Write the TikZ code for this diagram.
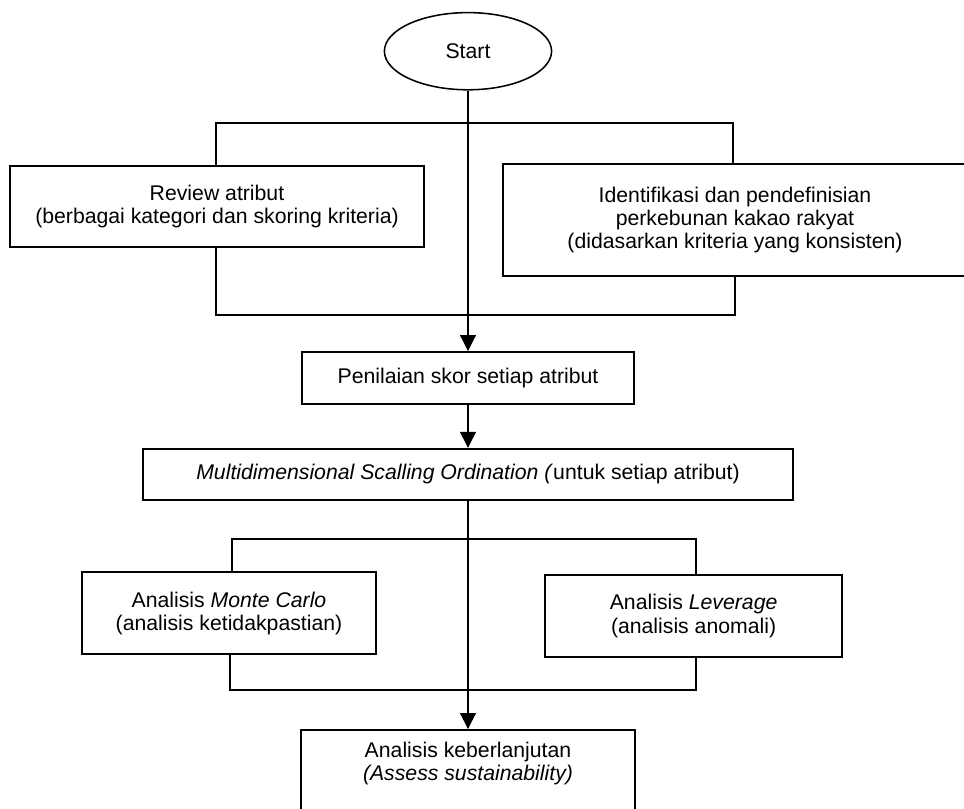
\documentclass[tikz,border=0pt]{standalone}
\usepackage{fontspec}
\setmainfont{Liberation Sans}
\usetikzlibrary{shapes.geometric, arrows.meta}

\tikzset{
  box/.style={draw, line width=1.4pt, align=center, inner sep=0pt},
  link/.style={line width=0.8pt},
  flow/.style={link, -{Triangle[length=4mm, width=4mm]}},
}

\begin{document}
\begin{tikzpicture}[font=\fontsize{15.1}{16.6}\selectfont]

  % page frame -- the two wide boxes run off the edge
  \useasboundingbox (-11.7, 0) rectangle (12.4, -20.2);
  \clip (-11.7, 0) rectangle (12.4, -20.2);

  % Start -- ellipse at the top
  \node[draw, ellipse, line width=1.1pt, minimum width=4.18cm, minimum height=1.93cm]
    (start) at (0, -1.28) {Start};

  % first pair of boxes
  \node[box, minimum width=10.35cm, minimum height=2.03cm] (review) at (-6.275, -5.16)
    {Review atribut\\(berbagai kategori dan skoring kriteria)};
  \node[box, minimum width=11.6cm, minimum height=2.8cm] (ident) at (6.675, -5.5)
    {Identifikasi dan pendefinisian\\perkebunan kakao rakyat\\(didasarkan kriteria yang konsisten)};

  % scoring and ordination
  \node[box, minimum width=8.3cm, minimum height=1.3cm] (score) at (0, -9.45)
    {Penilaian skor setiap atribut};
  \node[box, minimum width=16.23cm, minimum height=1.28cm] (mds) at (0, -11.86)
    {\textit{Multidimensional Scalling Ordination (}untuk setiap atribut)};

  % second pair of boxes
  \node[box, minimum width=7.35cm, minimum height=2.05cm] (mc) at (-5.975, -15.33)
    {Analisis \textit{Monte Carlo}\\(analisis ketidakpastian)};
  \node[box, minimum width=7.43cm, minimum height=2.05cm] (lev) at (5.64, -15.4)
    {Analisis \textit{Leverage}\\(analisis anomali)};

  % last box -- cut by the bottom edge
  \node[box, anchor=north, minimum width=8.35cm, inner ysep=0.3cm] (final) at (0, -18.225)
    {Analisis keberlanjutan\\\textit{(Assess sustainability)}\\\strut};

  % brackets round the first pair
  \coordinate (splitL) at (-6.3, -3.075);
  \coordinate (splitR) at (6.625, -3.075);
  \coordinate (joinL) at (-6.3, -7.875);
  \coordinate (joinR) at (6.675, -7.875);
  \draw[link] (review.north -| splitL) -- (splitL) -- (splitR) -- (ident.north -| splitR);
  \draw[link] (review.south -| joinL) -- (joinL) -- (joinR) -- (ident.south -| joinR);

  % brackets round the second pair
  \coordinate (forkL) at (-5.9, -13.475);
  \coordinate (forkR) at (5.7, -13.475);
  \coordinate (meetL) at (-5.95, -17.25);
  \coordinate (meetR) at (5.7, -17.25);
  \draw[link] (mc.north -| forkL) -- (forkL) -- (forkR) -- (lev.north -| forkR);
  \draw[link] (mc.south -| meetL) -- (meetL) -- (meetR) -- (lev.south -| meetR);

  % main line down the middle
  \draw[flow] (start) -- (score);
  \draw[flow] (score) -- (mds);
  \draw[flow] (mds) -- (final);

\end{tikzpicture}
\end{document}
